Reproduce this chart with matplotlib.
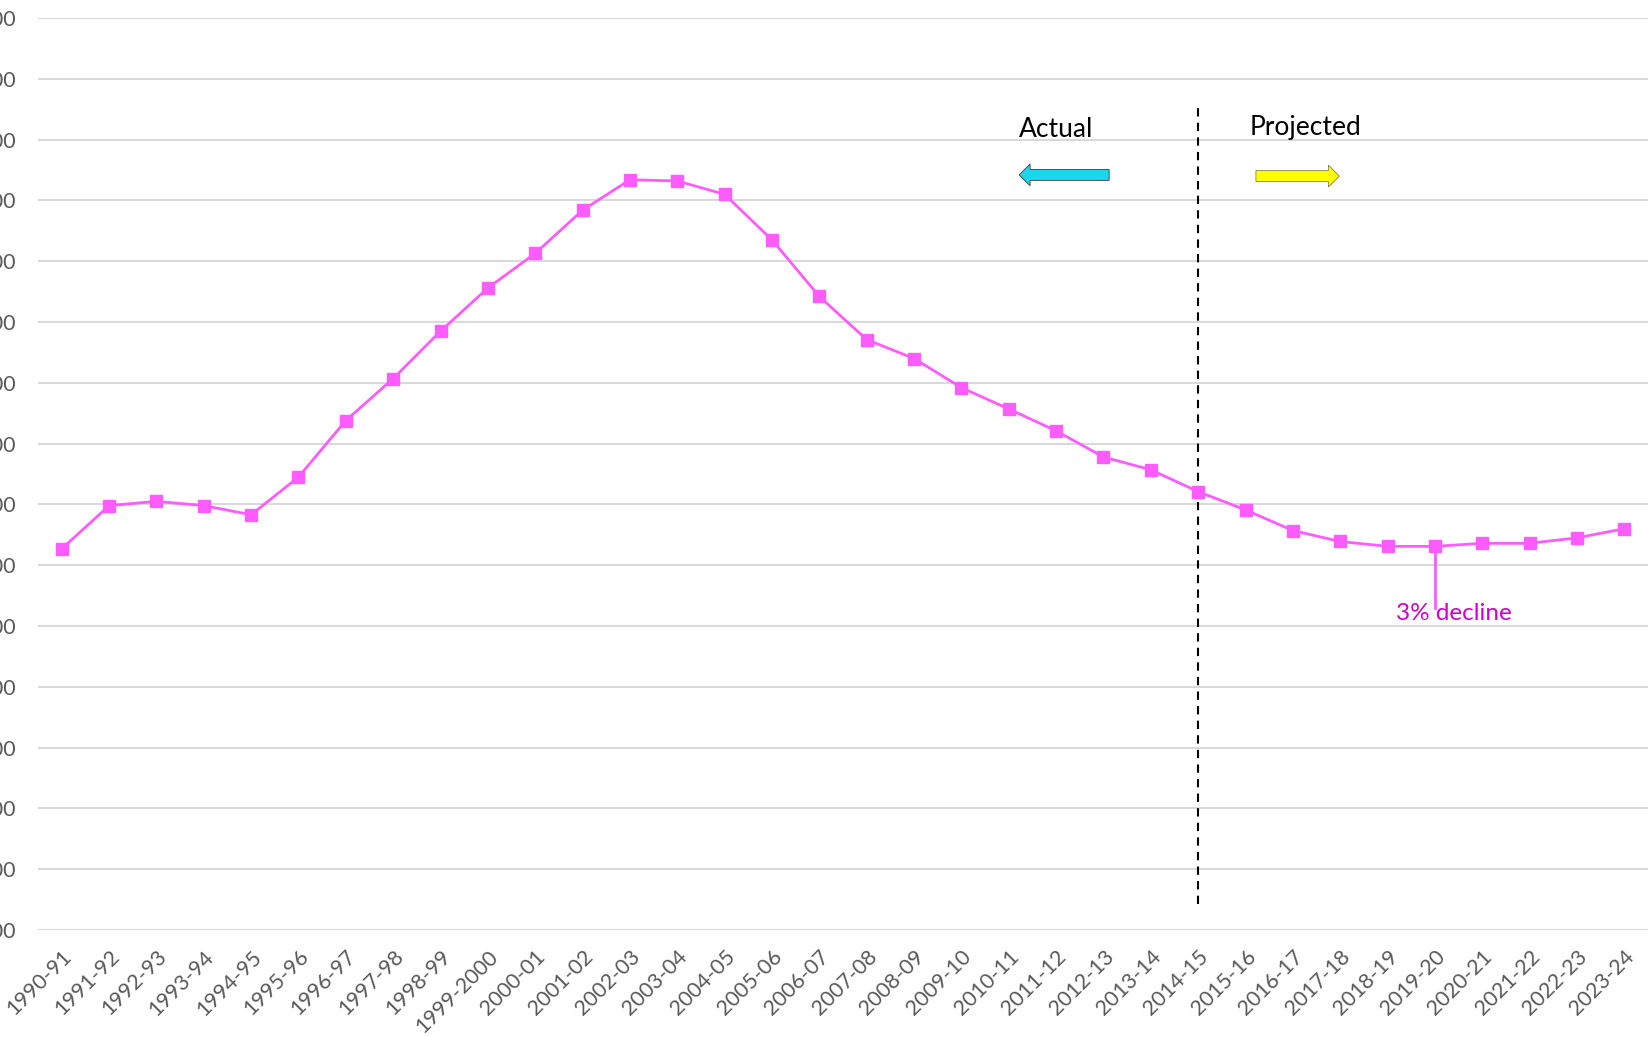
import matplotlib
matplotlib.use("Agg")
import matplotlib.pyplot as plt
from matplotlib.patches import FancyArrow

plt.rcParams['font.family'] = ['Lato', 'DejaVu Sans']

YEARS = [
    '1990-91', '1991-92', '1992-93', '1993-94', '1994-95', '1995-96', '1996-97',
    '1997-98', '1998-99', '1999-2000', '2000-01', '2001-02', '2002-03', '2003-04',
    '2004-05', '2005-06', '2006-07', '2007-08', '2008-09', '2009-10', '2010-11',
    '2011-12', '2012-13', '2013-14', '2014-15', '2015-16', '2016-17', '2017-18',
    '2018-19', '2019-20', '2020-21', '2021-22', '2022-23', '2023-24',
]
VALUES = [
    1627, 1698, 1705, 1698, 1683, 1745, 1838, 1907, 1985, 2056, 2113, 2184,
    2234, 2232, 2210, 2135, 2042, 1971, 1940, 1892, 1857, 1821, 1778, 1757,
    1721, 1691, 1657, 1639, 1631, 1631, 1636, 1636, 1645, 1660,
]
Y_TICKS = list(range(1000, 2501, 100))
SPLIT_YEAR = '2014-15'
DECLINE_YEAR = '2019-20'

LINE_COLOR = '#ff5cff'

fig = plt.figure(figsize=(16.48, 10.37), dpi=100)
ax = fig.add_axes([0.0231, 0.1032, 0.9769, 0.8794])

x = list(range(len(YEARS)))
ax.plot(x, VALUES, color=LINE_COLOR, linewidth=2, marker='s', markersize=9,
        markerfacecolor=LINE_COLOR, markeredgecolor=LINE_COLOR, zorder=3)

ax.set_xlim(-0.5, len(YEARS) - 0.5)
ax.set_ylim(Y_TICKS[0], Y_TICKS[-1])
ax.set_yticks(Y_TICKS)
ax.set_xticks(x)
ax.set_xticklabels(YEARS, rotation=45, ha='right', rotation_mode='anchor')
ax.tick_params(axis='both', length=0, labelsize=15.5, colors='#595959')
ax.tick_params(axis='y', pad=16)
ax.tick_params(axis='x', pad=12)
ax.grid(axis='y', color='#d9d9d9', linewidth=1.5)
ax.set_axisbelow(True)
for s in ax.spines.values():
    s.set_visible(False)

# actual / projected split
xs = YEARS.index(SPLIT_YEAR)
ax.plot([xs, xs], [1043, 2357], color='black', linestyle=(0, (4, 3)), linewidth=1.5, zorder=2)
ax.text(20.22, 2304, 'Actual', fontsize=19, color='black', ha='left', va='baseline')
ax.text(25.08, 2308, 'Projected', fontsize=19, color='black', ha='left', va='baseline')
ax.add_patch(FancyArrow(22.12, 2242, -1.9, 0, width=18, head_width=36, head_length=0.23,
                        length_includes_head=True, facecolor='#1ad6f0', edgecolor='#404040',
                        linewidth=0.6, zorder=4))
ax.add_patch(FancyArrow(25.22, 2240, 1.76, 0, width=18, head_width=36, head_length=0.23,
                        length_includes_head=True, facecolor='#ffff00', edgecolor='#808040',
                        linewidth=0.6, zorder=4))

# decline annotation
xd = YEARS.index(DECLINE_YEAR)
ax.plot([xd, xd], [VALUES[xd], 1530], color=LINE_COLOR, linewidth=2, zorder=2)
ax.text(28.18, 1521, '3% decline', fontsize=17.5, color='#cc00cc', ha='left', va='center')

fig.savefig('out.png', dpi=100)
